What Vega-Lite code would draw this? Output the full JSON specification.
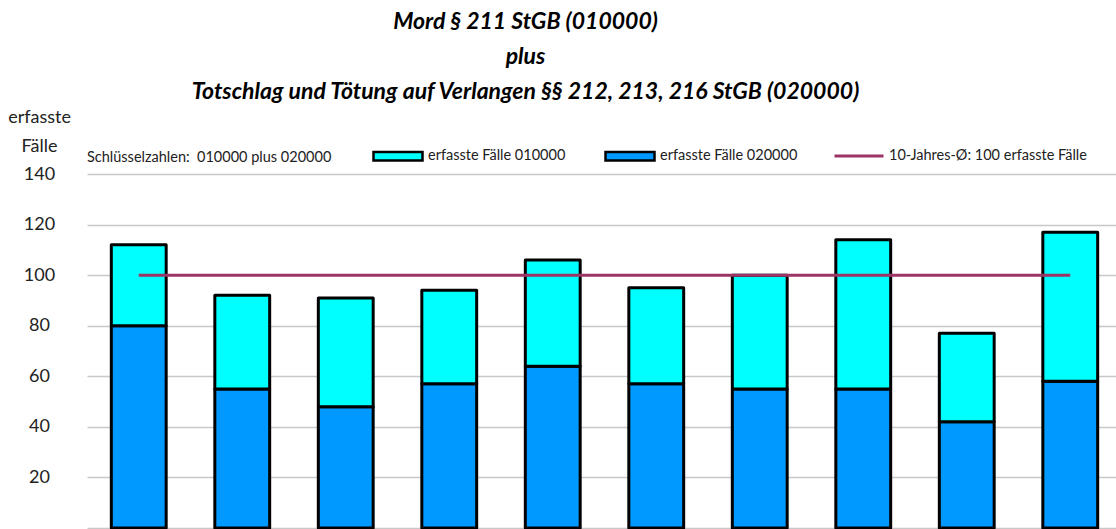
{
  "$schema": "https://vega.github.io/schema/vega-lite/v6.json",
  "autosize": {"type": "none"},
  "padding": {"left": 87, "top": 174, "right": 0, "bottom": 1},
  "width": 1035,
  "height": 354,
  "config": {
    "font": "Lato",
    "view": {"stroke": null},
    "axis": {"labelFont": "Lato", "titleFont": "Lato"},
    "legend": {"labelFont": "Lato", "titleFont": "Lato"}
  },
  "title": {
    "text": ["Mord § 211 StGB (010000)", "plus", "Totschlag und Tötung auf Verlangen §§ 212, 213, 216 StGB (020000)"],
    "font": "Lato",
    "fontSize": 23,
    "fontStyle": "italic",
    "fontWeight": "bold",
    "lineHeight": 35,
    "anchor": "middle",
    "frame": "group",
    "dx": -79,
    "offset": 4,
    "color": "#000000"
  },
  "data": {
    "values": [
      {"Jahr": "2014", "Schluessel": "erfasste Fälle 020000", "Faelle": 80, "Ordnung": 1},
      {"Jahr": "2014", "Schluessel": "erfasste Fälle 010000", "Faelle": 32, "Ordnung": 2},
      {"Jahr": "2015", "Schluessel": "erfasste Fälle 020000", "Faelle": 55, "Ordnung": 1},
      {"Jahr": "2015", "Schluessel": "erfasste Fälle 010000", "Faelle": 37, "Ordnung": 2},
      {"Jahr": "2016", "Schluessel": "erfasste Fälle 020000", "Faelle": 48, "Ordnung": 1},
      {"Jahr": "2016", "Schluessel": "erfasste Fälle 010000", "Faelle": 43, "Ordnung": 2},
      {"Jahr": "2017", "Schluessel": "erfasste Fälle 020000", "Faelle": 57, "Ordnung": 1},
      {"Jahr": "2017", "Schluessel": "erfasste Fälle 010000", "Faelle": 37, "Ordnung": 2},
      {"Jahr": "2018", "Schluessel": "erfasste Fälle 020000", "Faelle": 64, "Ordnung": 1},
      {"Jahr": "2018", "Schluessel": "erfasste Fälle 010000", "Faelle": 42, "Ordnung": 2},
      {"Jahr": "2019", "Schluessel": "erfasste Fälle 020000", "Faelle": 57, "Ordnung": 1},
      {"Jahr": "2019", "Schluessel": "erfasste Fälle 010000", "Faelle": 38, "Ordnung": 2},
      {"Jahr": "2020", "Schluessel": "erfasste Fälle 020000", "Faelle": 55, "Ordnung": 1},
      {"Jahr": "2020", "Schluessel": "erfasste Fälle 010000", "Faelle": 45, "Ordnung": 2},
      {"Jahr": "2021", "Schluessel": "erfasste Fälle 020000", "Faelle": 55, "Ordnung": 1},
      {"Jahr": "2021", "Schluessel": "erfasste Fälle 010000", "Faelle": 59, "Ordnung": 2},
      {"Jahr": "2022", "Schluessel": "erfasste Fälle 020000", "Faelle": 42, "Ordnung": 1},
      {"Jahr": "2022", "Schluessel": "erfasste Fälle 010000", "Faelle": 35, "Ordnung": 2},
      {"Jahr": "2023", "Schluessel": "erfasste Fälle 020000", "Faelle": 58, "Ordnung": 1},
      {"Jahr": "2023", "Schluessel": "erfasste Fälle 010000", "Faelle": 59, "Ordnung": 2}
    ]
  },
  "layer": [
    {
      "mark": {"type": "bar", "stroke": "#000000", "strokeWidth": 3, "strokeJoin": "round"},
      "encoding": {
        "x": {
          "field": "Jahr",
          "type": "ordinal",
          "axis": null,
          "scale": {"paddingInner": 0.47, "paddingOuter": 0.235}
        },
        "y": {
          "field": "Faelle",
          "type": "quantitative",
          "stack": "zero",
          "scale": {"domain": [0, 140], "nice": false},
          "axis": {
            "values": [0, 20, 40, 60, 80, 100, 120, 140],
            "labelExpr": "datum.value == 0 ? '' : datum.label",
            "title": ["erfasste", "Fälle"],
            "titleAngle": 0,
            "titleX": -48,
            "titleY": -57,
            "titleAlign": "center",
            "titleBaseline": "middle",
            "titleLineHeight": 29,
            "titleFontSize": 18,
            "titleFontWeight": "normal",
            "titleColor": "#222222",
            "labelFontSize": 18,
            "labelColor": "#222222",
            "labelAlign": "center",
            "labelPadding": 48,
            "ticks": false,
            "domain": false,
            "grid": true,
            "gridColor": "#C8C8C8",
            "gridWidth": 1.5
          }
        },
        "fill": {
          "field": "Schluessel",
          "type": "nominal",
          "scale": {"domain": ["erfasste Fälle 010000", "erfasste Fälle 020000"], "range": ["#00FFFF", "#0099FF"]},
          "legend": {
            "orient": "none",
            "legendX": 0,
            "legendY": -44,
            "direction": "horizontal",
            "padding": 0,
            "title": "Schlüsselzahlen:\u00a0 010000 plus 020000",
            "titleOrient": "left",
            "titlePadding": 40,
            "titleFontSize": 14.5,
            "titleFontWeight": "normal",
            "titleColor": "#222222",
            "titleBaseline": "middle",
            "titleAnchor": "middle",
            "titleLimit": 600,
            "labelFontSize": 14.5,
            "labelColor": "#222222",
            "labelOffset": 4,
            "labelLimit": 600,
            "columnPadding": 34,
            "symbolType": "M-1,-0.17H1V0.17H-1ZM0,1",
            "symbolSize": 2401,
            "symbolStrokeColor": "#000000",
            "symbolStrokeWidth": 2.5,
            "symbolOpacity": 1
          }
        },
        "order": {"field": "Ordnung", "type": "quantitative"}
      }
    },
    {
      "transform": [{"filter": "datum.Ordnung == 1"}],
      "mark": {"type": "line", "strokeWidth": 3},
      "encoding": {
        "x": {"field": "Jahr", "type": "ordinal"},
        "y": {"datum": 100, "type": "quantitative"},
        "stroke": {
          "datum": "10-Jahres-Ø: 100 erfasste Fälle",
          "type": "nominal",
          "scale": {"range": ["#9C3566"]},
          "legend": {
            "orient": "none",
            "legendX": 746,
            "legendY": -44,
            "padding": 0,
            "title": null,
            "labelFontSize": 14.5,
            "labelColor": "#222222",
            "labelOffset": 4,
            "labelLimit": 600,
            "symbolType": "stroke",
            "symbolSize": 2401,
            "symbolStrokeWidth": 3
          }
        }
      }
    }
  ]
}
